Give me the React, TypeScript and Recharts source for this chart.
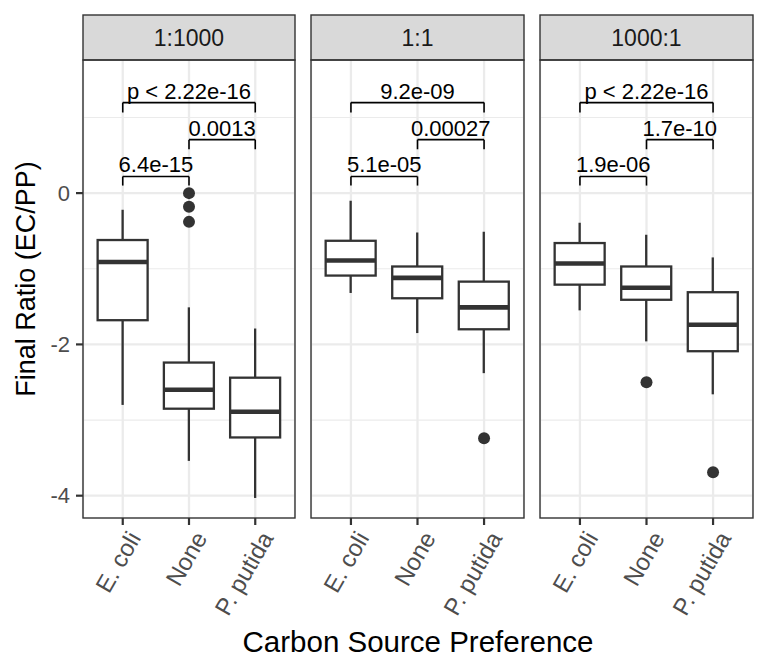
import React from 'react';
import {
  ComposedChart,
  Bar,
  XAxis,
  YAxis,
  CartesianGrid,
  ReferenceLine,
  ReferenceDot,
} from 'recharts';

const FONT = '"Liberation Sans", Arial, Helvetica, sans-serif';

const facets = ['1:1000', '1:1', '1000:1'];
const categories = ['E. coli', 'None', 'P. putida'];

// one row per facet, values in category order
const whiskerLow = [
  [-2.8, -3.54, -4.03],
  [-1.32, -1.85, -2.38],
  [-1.55, -1.96, -2.66],
];
const lowerQuartile = [
  [-1.68, -2.85, -3.23],
  [-1.09, -1.39, -1.8],
  [-1.21, -1.41, -2.09],
];
const medians = [
  [-0.91, -2.6, -2.89],
  [-0.89, -1.12, -1.51],
  [-0.93, -1.25, -1.74],
];
const upperQuartile = [
  [-0.62, -2.24, -2.44],
  [-0.63, -0.97, -1.17],
  [-0.66, -0.97, -1.31],
];
const whiskerHigh = [
  [-0.22, -1.51, -1.79],
  [-0.1, -0.52, -0.51],
  [-0.39, -0.55, -0.85],
];

const outlierCats = [['None', 'None', 'None'], ['P. putida'], ['None', 'P. putida']];
const outlierValues = [[0.0, -0.18, -0.38], [-3.24], [-2.5, -3.69]];

const comparisons = [
  ['E. coli', 'None'],
  ['None', 'P. putida'],
  ['E. coli', 'P. putida'],
];
const bracketTop = [0.22, 0.707, 1.197];
const bracketFoot = [0.1, 0.58, 1.066];
const pLabels = [
  ['6.4e-15', '0.0013', 'p < 2.22e-16'],
  ['5.1e-05', '0.00027', '9.2e-09'],
  ['1.9e-06', '1.7e-10', 'p < 2.22e-16'],
];

const yDomain = [-4.295, 1.76];
const majorTicks = [-4, -2, 0];
const minorTicks = [-3, -1, 1];

// layout
const panelLeft = [83, 311, 540];
const panelWidth = [212, 213, 213];
const panelTop = 60;
const panelHeight = 458;
const stripTop = 15;
const axisAreaHeight = 130;

function BoxShape(props: any) {
  const { x, y, width, height, payload } = props;
  const top = Math.min(y, y + height);
  const h = Math.abs(height);
  const span = payload.hi - payload.lo;
  const toPx = (v: number) => top + (h * (payload.hi - v)) / span;
  const cx = x + width / 2;
  const yq3 = toPx(payload.q3);
  const yq1 = toPx(payload.q1);
  const ymed = toPx(payload.med);
  return (
    <g>
      <line x1={cx} x2={cx} y1={toPx(payload.hi)} y2={yq3} stroke="#333333" strokeWidth={2.3} />
      <line x1={cx} x2={cx} y1={yq1} y2={toPx(payload.lo)} stroke="#333333" strokeWidth={2.3} />
      <rect x={x} y={yq3} width={width} height={yq1 - yq3} fill="#ffffff" stroke="#333333" strokeWidth={2.3} />
      <line x1={x} x2={x + width} y1={ymed} y2={ymed} stroke="#333333" strokeWidth={4.6} />
    </g>
  );
}

function SlantTick(props: any) {
  const { x, y, payload } = props;
  return (
    <g transform={`translate(${x + 5},${y + 3})`}>
      <text
        transform="rotate(-60)"
        textAnchor="end"
        dy={16}
        fill="#4D4D4D"
        fontSize={24}
        fontFamily={FONT}
      >
        {payload.value}
      </text>
    </g>
  );
}

function Facet({ index }: { index: number }) {
  const rows = categories.map((cat, i) => ({
    cat,
    range: [whiskerLow[index][i], whiskerHigh[index][i]],
    lo: whiskerLow[index][i],
    q1: lowerQuartile[index][i],
    med: medians[index][i],
    q3: upperQuartile[index][i],
    hi: whiskerHigh[index][i],
  }));
  const first = index === 0;
  const yAxisWidth = first ? panelLeft[0] : 0;
  const w = panelWidth[index];
  const pad = w / 32;

  return (
    <div
      style={{
        position: 'absolute',
        left: panelLeft[index] - yAxisWidth,
        top: panelTop,
      }}
    >
      <ComposedChart
        width={w + yAxisWidth}
        height={panelHeight + axisAreaHeight}
        data={rows}
        margin={{ top: 0, right: 0, bottom: 0, left: 0 }}
        barSize={50}
      >
        <CartesianGrid
          vertical={false}
          horizontalValues={minorTicks}
          stroke="#EBEBEB"
          strokeWidth={1.2}
          strokeDasharray=""
        />
        <CartesianGrid
          horizontalValues={majorTicks}
          stroke="#EBEBEB"
          strokeWidth={2.3}
          strokeDasharray=""
        />
        <XAxis
          dataKey="cat"
          type="category"
          interval={0}
          padding={{ left: pad, right: pad }}
          axisLine={false}
          tickSize={7}
          tickMargin={2}
          tickLine={{ stroke: '#333333', strokeWidth: 2.2 }}
          tick={<SlantTick />}
          height={axisAreaHeight}
        />
        <YAxis
          type="number"
          domain={yDomain}
          allowDataOverflow
          ticks={majorTicks}
          hide={!first}
          width={yAxisWidth}
          axisLine={false}
          tickSize={7}
          tickMargin={6}
          tickLine={{ stroke: '#333333', strokeWidth: 2.2 }}
          tick={{ fill: '#4D4D4D', fontSize: 22, fontFamily: FONT }}
        />
        <Bar dataKey="range" shape={<BoxShape />} isAnimationActive={false} />
        {outlierValues[index].map((v, k) => (
          <ReferenceDot
            key={`o${k}`}
            x={outlierCats[index][k]}
            y={v}
            r={6}
            fill="#333333"
            stroke="none"
          />
        ))}
        {comparisons.map(([a, b], k) => (
          <ReferenceLine
            key={`b${k}`}
            segment={[
              { x: a, y: bracketTop[k] },
              { x: b, y: bracketTop[k] },
            ]}
            stroke="#000000"
            strokeWidth={1.6}
            label={{
              value: pLabels[index][k],
              position: 'top',
              offset: 4,
              fill: '#000000',
              fontSize: 22,
              fontFamily: FONT,
            }}
          />
        ))}
        {comparisons.flatMap(([a, b], k) =>
          [a, b].map((c, j) => (
            <ReferenceLine
              key={`t${k}-${j}`}
              segment={[
                { x: c, y: bracketTop[k] },
                { x: c, y: bracketFoot[k] },
              ]}
              stroke="#000000"
              strokeWidth={1.6}
            />
          ))
        )}
      </ComposedChart>
    </div>
  );
}

export default function App() {
  const stripHeight = panelTop - stripTop;
  return (
    <div
      style={{
        position: 'absolute',
        left: 0,
        top: 0,
        width: 768,
        height: 672,
        background: '#ffffff',
        fontFamily: FONT,
      }}
    >
      {facets.map((f, i) => (
        <Facet key={f} index={i} />
      ))}
      <svg
        width={768}
        height={672}
        style={{ position: 'absolute', left: 0, top: 0, pointerEvents: 'none' }}
      >
        {facets.map((f, i) => (
          <g key={f}>
            <rect
              x={panelLeft[i]}
              y={stripTop}
              width={panelWidth[i]}
              height={stripHeight}
              fill="#D9D9D9"
              stroke="#333333"
              strokeWidth={1.4}
            />
            <text
              x={panelLeft[i] + panelWidth[i] / 2}
              y={45.5}
              textAnchor="middle"
              fontSize={23}
              fill="#1A1A1A"
              fontFamily={FONT}
            >
              {f}
            </text>
            <rect
              x={panelLeft[i]}
              y={panelTop}
              width={panelWidth[i]}
              height={panelHeight}
              fill="none"
              stroke="#333333"
              strokeWidth={1.4}
            />
          </g>
        ))}
        <text
          transform="translate(35, 279) rotate(-90)"
          textAnchor="middle"
          fontSize={27}
          fill="#000000"
          fontFamily={FONT}
        >
          Final Ratio (EC/PP)
        </text>
        <text
          x={(panelLeft[0] + panelLeft[2] + panelWidth[2]) / 2}
          y={652}
          textAnchor="middle"
          fontSize={29.5}
          fill="#000000"
          fontFamily={FONT}
        >
          Carbon Source Preference
        </text>
      </svg>
    </div>
  );
}
